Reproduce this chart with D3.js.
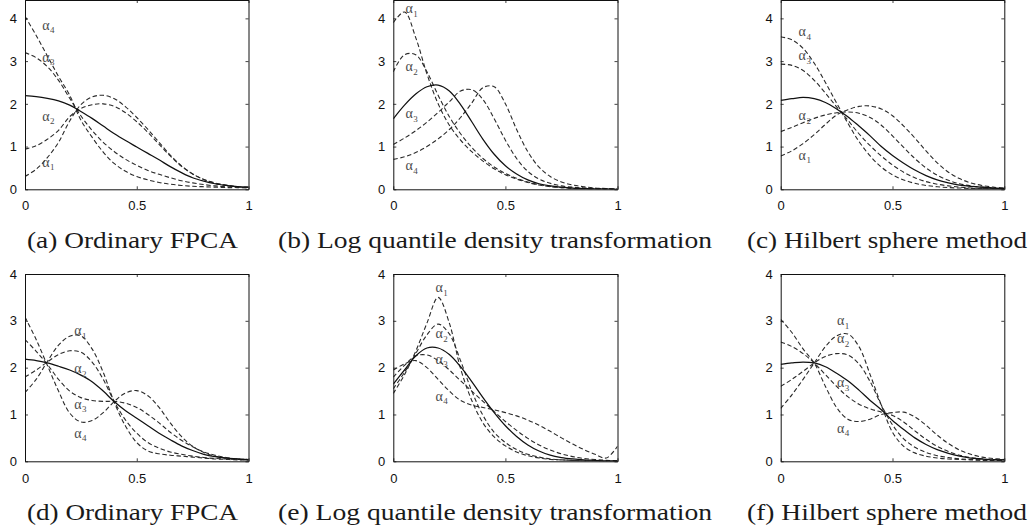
<!DOCTYPE html>
<html>
<head>
<meta charset="utf-8">
<script src="https://cdn.jsdelivr.net/npm/d3@7"></script>
<style>
  body { margin: 0; background: #fff; }
  svg { display: block; }
</style>
</head>
<body>
<svg id="fig" width="1032" height="531"></svg>
<script>
// shared grid of x positions (read every 0.05 along the axis)
const xGrid = [0, 0.05, 0.1, 0.15, 0.2, 0.25, 0.3, 0.35, 0.4, 0.45, 0.5,
               0.55, 0.6, 0.65, 0.7, 0.75, 0.8, 0.85, 0.9, 0.95, 1];

const xTicks = [0, 0.5, 1];
const xTickLabels = ["0", "0.5", "1"];
const yTicks = [0, 1, 2, 3, 4];
const alphaNames = ["1", "2", "3", "4"];

const captions = [
  "(a) Ordinary FPCA", "(b) Log quantile density transformation", "(c) Hilbert sphere method",
  "(d) Ordinary FPCA", "(e) Log quantile density transformation", "(f) Hilbert sphere method"
];

// (a) ordinary FPCA, first sample
const meanA = [2.19, 2.17, 2.13, 2.07, 1.97, 1.82, 1.66, 1.48, 1.3, 1.14, 0.99, 0.84, 0.69, 0.53, 0.39, 0.27, 0.19, 0.13, 0.09, 0.06, 0.05];
const a1A = [0.3, 0.47, 0.74, 1.1, 1.6, 1.98, 2.16, 2.2, 2.12, 1.93, 1.68, 1.4, 1.1, 0.8, 0.55, 0.36, 0.23, 0.14, 0.09, 0.06, 0.04];
const a2A = [0.94, 1.02, 1.17, 1.38, 1.7, 1.89, 1.98, 2.0, 1.94, 1.79, 1.58, 1.33, 1.05, 0.78, 0.54, 0.36, 0.23, 0.15, 0.1, 0.06, 0.05];
const a3A = [3.2, 3.08, 2.87, 2.55, 2.13, 1.72, 1.38, 1.1, 0.88, 0.7, 0.56, 0.44, 0.35, 0.27, 0.2, 0.15, 0.11, 0.08, 0.06, 0.05, 0.04];
const a4A = [4.05, 3.6, 3.12, 2.64, 2.2, 1.62, 1.22, 0.87, 0.6, 0.42, 0.3, 0.22, 0.16, 0.12, 0.09, 0.07, 0.06, 0.05, 0.04, 0.04, 0.03];

// (b) log quantile density transformation, first sample
const meanB = [1.65, 1.97, 2.23, 2.4, 2.44, 2.3, 1.98, 1.58, 1.17, 0.82, 0.55, 0.36, 0.22, 0.13, 0.08, 0.05, 0.03, 0.02, 0.01, 0.01, 0.0];
const a1B = [3.9, 4.15, 3.55, 2.7, 2.0, 1.5, 1.15, 0.88, 0.66, 0.48, 0.34, 0.24, 0.16, 0.1, 0.06, 0.04, 0.02, 0.01, 0.01, 0.0, 0.0];
const a2B = [2.75, 3.15, 3.15, 2.75, 2.2, 1.7, 1.3, 0.98, 0.72, 0.52, 0.37, 0.26, 0.17, 0.11, 0.07, 0.04, 0.03, 0.02, 0.01, 0.0, 0.0];
const a3B = [1.05, 1.2, 1.37, 1.57, 1.8, 2.05, 2.3, 2.33, 2.1, 1.65, 1.15, 0.72, 0.42, 0.24, 0.14, 0.08, 0.05, 0.03, 0.02, 0.01, 0.0];
const a4B = [0.7, 0.76, 0.86, 1.0, 1.18, 1.4, 1.68, 2.02, 2.38, 2.4, 2.0, 1.4, 0.88, 0.52, 0.3, 0.17, 0.1, 0.06, 0.03, 0.02, 0.01];

// (c) Hilbert sphere method, first sample
const meanC = [2.08, 2.12, 2.15, 2.12, 2.03, 1.88, 1.7, 1.48, 1.25, 1.0, 0.79, 0.61, 0.45, 0.32, 0.22, 0.15, 0.1, 0.07, 0.05, 0.03, 0.02];
const a1C = [0.78, 0.9, 1.07, 1.28, 1.52, 1.74, 1.86, 1.94, 1.95, 1.88, 1.72, 1.48, 1.2, 0.9, 0.62, 0.4, 0.25, 0.15, 0.09, 0.05, 0.03];
const a2C = [1.35, 1.45, 1.56, 1.66, 1.74, 1.79, 1.81, 1.78, 1.68, 1.5, 1.25, 0.98, 0.72, 0.5, 0.33, 0.21, 0.13, 0.08, 0.05, 0.03, 0.02];
const a3C = [2.93, 2.9, 2.78, 2.55, 2.25, 1.93, 1.62, 1.3, 1.02, 0.78, 0.57, 0.4, 0.27, 0.18, 0.12, 0.08, 0.05, 0.03, 0.02, 0.02, 0.01];
const a4C = [3.57, 3.5, 3.3, 2.95, 2.5, 2.02, 1.55, 1.12, 0.78, 0.52, 0.34, 0.22, 0.14, 0.09, 0.06, 0.04, 0.03, 0.02, 0.02, 0.01, 0.01];

// (d) ordinary FPCA, second sample
const meanD = [2.18, 2.15, 2.1, 2.03, 1.95, 1.84, 1.7, 1.5, 1.27, 1.08, 0.92, 0.76, 0.6, 0.46, 0.33, 0.23, 0.15, 0.1, 0.07, 0.05, 0.03];
const a1D = [1.47, 1.75, 2.13, 2.48, 2.67, 2.68, 2.4, 1.9, 1.25, 0.75, 0.4, 0.22, 0.16, 0.13, 0.11, 0.09, 0.07, 0.05, 0.04, 0.03, 0.03];
const a2D = [1.8, 1.95, 2.12, 2.28, 2.36, 2.33, 2.12, 1.75, 1.27, 0.88, 0.6, 0.4, 0.28, 0.2, 0.15, 0.11, 0.08, 0.06, 0.05, 0.04, 0.03];
const a3D = [2.6, 2.35, 2.07, 1.75, 1.5, 1.36, 1.3, 1.28, 1.28, 1.24, 1.15, 1.0, 0.82, 0.62, 0.45, 0.31, 0.2, 0.13, 0.08, 0.05, 0.04];
const a4D = [3.08, 2.6, 2.05, 1.5, 1.03, 0.84, 0.87, 1.04, 1.28, 1.46, 1.51, 1.4, 1.15, 0.82, 0.53, 0.32, 0.19, 0.11, 0.07, 0.05, 0.04];

// (e) log quantile density transformation, second sample
const meanE = [1.65, 1.95, 2.25, 2.42, 2.42, 2.28, 2.02, 1.7, 1.36, 1.04, 0.76, 0.53, 0.35, 0.22, 0.13, 0.08, 0.05, 0.03, 0.02, 0.01, 0.01];
const a1E = [1.45, 1.85, 2.35, 2.95, 3.5, 2.95, 1.98, 1.3, 0.82, 0.52, 0.33, 0.2, 0.12, 0.07, 0.04, 0.03, 0.02, 0.01, 0.01, 0.0, 0.0];
const a2E = [1.55, 1.9, 2.3, 2.7, 2.93, 2.72, 2.15, 1.5, 0.98, 0.62, 0.4, 0.25, 0.15, 0.09, 0.05, 0.03, 0.02, 0.01, 0.01, 0.0, 0.0];
const a3E = [1.8, 2.05, 2.25, 2.27, 2.15, 1.95, 1.72, 1.5, 1.28, 1.06, 0.85, 0.66, 0.49, 0.35, 0.24, 0.16, 0.1, 0.06, 0.04, 0.02, 0.01];
const a4E = [1.95, 2.08, 2.15, 2.0, 1.75, 1.5, 1.3, 1.2, 1.15, 1.1, 1.04, 0.97, 0.88, 0.77, 0.64, 0.5, 0.37, 0.25, 0.15, 0.07, 0.32];

// (f) Hilbert sphere method, second sample
const meanF = [2.07, 2.1, 2.12, 2.1, 2.02, 1.88, 1.72, 1.52, 1.3, 1.1, 0.87, 0.68, 0.5, 0.36, 0.25, 0.17, 0.11, 0.07, 0.05, 0.03, 0.03];
const a1F = [1.13, 1.42, 1.75, 2.1, 2.45, 2.68, 2.72, 2.45, 1.85, 1.2, 0.62, 0.32, 0.18, 0.11, 0.07, 0.05, 0.04, 0.03, 0.02, 0.02, 0.02];
const a2F = [1.6, 1.75, 1.92, 2.1, 2.24, 2.3, 2.27, 2.08, 1.7, 1.2, 0.78, 0.48, 0.3, 0.19, 0.12, 0.08, 0.05, 0.04, 0.03, 0.02, 0.02];
const a3F = [2.55, 2.45, 2.3, 2.1, 1.85, 1.6, 1.38, 1.22, 1.12, 1.05, 0.98, 0.84, 0.65, 0.47, 0.32, 0.21, 0.13, 0.08, 0.05, 0.04, 0.03];
const a4F = [3.03, 2.75, 2.4, 2.1, 1.6, 1.15, 0.9, 0.85, 0.9, 1.0, 1.04, 1.05, 0.95, 0.77, 0.56, 0.38, 0.24, 0.15, 0.09, 0.06, 0.04];

// where the alpha_k annotations sit, in data units [x, y] for alpha_1..alpha_4
const labelsA = [[0.097, 0.61], [0.097, 1.69], [0.097, 3.07], [0.097, 3.81]];
const labelsB = [[0.074, 4.2], [0.074, 2.84], [0.074, 1.74], [0.074, 0.53]];
const labelsC = [[0.1, 0.77], [0.1, 1.7], [0.1, 3.1], [0.1, 3.66]];
const labelsD = [[0.24, 2.77], [0.24, 1.96], [0.24, 1.2], [0.24, 0.58]];
const labelsE = [[0.208, 3.69], [0.208, 2.7], [0.208, 2.16], [0.208, 1.37]];
const labelsF = [[0.272, 2.98], [0.272, 2.6], [0.272, 1.66], [0.272, 0.68]];

const yMaxTop = 4.43, yMaxBottom = 4;

// layout of the six boxes (pixels)
const colX = [[25, 248.5], [393.3, 617.5], [780.7, 1004.3]];
const rowY = [{ top: 0, bottom: 189.3, ymax: yMaxTop, capY: 247.5, pad: 11 },
              { top: 274, bottom: 461.3, ymax: yMaxBottom, capY: 520, pad: 12.5 }];
const captionX = [132.5, 495, 887];
const captionW = [211, 434, 280];

const panels = [
  { mean: meanA, alphas: [a1A, a2A, a3A, a4A], labels: labelsA },
  { mean: meanB, alphas: [a1B, a2B, a3B, a4B], labels: labelsB },
  { mean: meanC, alphas: [a1C, a2C, a3C, a4C], labels: labelsC },
  { mean: meanD, alphas: [a1D, a2D, a3D, a4D], labels: labelsD },
  { mean: meanE, alphas: [a1E, a2E, a3E, a4E], labels: labelsE },
  { mean: meanF, alphas: [a1F, a2F, a3F, a4F], labels: labelsF }
];

const svg = d3.select("#fig");
const sansFont = "'Liberation Sans', Arial, Helvetica, sans-serif";
const serifFont = "'Liberation Serif', 'Times New Roman', serif";

panels.forEach(function(p, i) {
  const row = rowY[Math.floor(i / 3)];
  const col = colX[i % 3];

  const x = d3.scaleLinear().domain([0, 1]).range(col);
  const y = d3.scaleLinear().domain([0, row.ymax]).range([row.bottom, row.top]);

  const line = d3.line()
    .x(function(d, k) { return x(xGrid[k]); })
    .y(function(d) { return y(d); })
    .curve(d3.curveCatmullRom.alpha(0.5));

  const g = svg.append("g");

  // clip so curves stay inside the box
  const clipId = "clip" + i;
  svg.append("clipPath").attr("id", clipId)
    .append("rect")
    .attr("x", col[0]).attr("y", row.top)
    .attr("width", col[1] - col[0]).attr("height", row.bottom - row.top);

  const curves = g.append("g").attr("clip-path", "url(#" + clipId + ")");

  curves.selectAll("path.alpha-line")
    .data(p.alphas)
    .enter().append("path")
    .attr("class", "alpha-line")
    .attr("d", line)
    .attr("fill", "none")
    .attr("stroke", "#2a2a2a")
    .attr("stroke-width", 1.1)
    .attr("stroke-dasharray", "4.5,2.6");

  curves.append("path")
    .datum(p.mean)
    .attr("d", line)
    .attr("fill", "none")
    .attr("stroke", "#111")
    .attr("stroke-width", 1.25);

  // frame with inward ticks on all four sides
  const axB = g.append("g")
    .attr("transform", "translate(0," + row.bottom + ")")
    .call(d3.axisBottom(x).tickValues(xTicks)
      .tickFormat(function(d, k) { return xTickLabels[k]; })
      .tickSizeInner(-3).tickSizeOuter(0).tickPadding(row.pad));

  g.append("g")
    .attr("transform", "translate(0," + row.top + ")")
    .call(d3.axisTop(x).tickValues(xTicks).tickFormat("").tickSizeInner(-3).tickSizeOuter(0));

  const axL = g.append("g")
    .attr("transform", "translate(" + col[0] + ",0)")
    .call(d3.axisLeft(y).tickValues(yTicks).tickFormat(d3.format("d"))
      .tickSizeInner(-3).tickSizeOuter(0).tickPadding(8));

  g.append("g")
    .attr("transform", "translate(" + col[1] + ",0)")
    .call(d3.axisRight(y).tickValues(yTicks).tickFormat("").tickSizeInner(-3).tickSizeOuter(0));

  [axB, axL].forEach(function(ax) {
    ax.attr("font-family", sansFont).attr("font-size", 13);
    ax.selectAll("text").attr("fill", "#111");
  });

  g.selectAll(".domain").attr("stroke", "#111").attr("stroke-width", 1);
  g.selectAll(".tick line").attr("stroke", "#111").attr("stroke-width", 0.8);

  // alpha_k annotations
  p.labels.forEach(function(pos, k) {
    const t = g.append("text")
      .attr("font-family", serifFont)
      .attr("font-size", 14)
      .attr("fill", "#4a4a4a")
      .attr("x", x(pos[0]) - 4.5)
      .attr("y", y(pos[1]) + 3.5);
    t.append("tspan").text("\u03b1");
    t.append("tspan")
      .attr("font-size", 9)
      .attr("dy", 3.5)
      .attr("dx", 0.5)
      .text(alphaNames[k]);
  });

  // caption under the panel
  svg.append("text")
    .attr("font-family", serifFont)
    .attr("font-size", 23.5)
    .attr("fill", "#1a1a1a")
    .attr("x", captionX[i % 3])
    .attr("y", row.capY)
    .attr("text-anchor", "middle")
    .attr("textLength", captionW[i % 3])
    .attr("lengthAdjust", "spacingAndGlyphs")
    .text(captions[i]);
});
</script>
</body>
</html>
